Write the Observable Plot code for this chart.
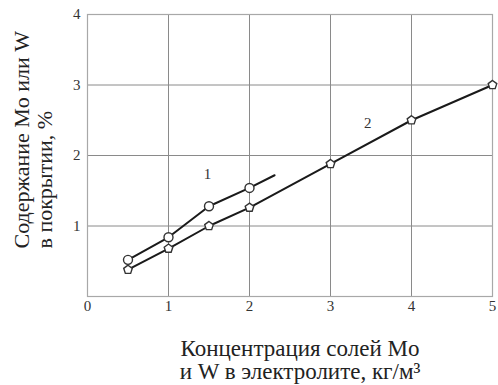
<!DOCTYPE html>
<html>
<head>
<meta charset="utf-8">
<script src="https://cdn.jsdelivr.net/npm/d3@7"></script>
<script src="https://cdn.jsdelivr.net/npm/@observablehq/plot@0.6"></script>
<style>
  html, body { margin: 0; padding: 0; background: #fff; }
  svg text { font-family: 'Liberation Serif', 'DejaVu Serif', serif; }
</style>
</head>
<body>
<div id="chart"></div>
<script>
// ---- data ----
const xTicks = [0, 1, 2, 3, 4, 5];
const yTicks = [1, 2, 3, 4];
const yGrid = [0, 1, 2, 3, 4];

const curve1X = [0.5, 1.0, 1.5, 2.0];
const curve1Y = [0.52, 0.84, 1.28, 1.54];
const curve1TailX = [2.0, 2.31];
const curve1TailY = [1.54, 1.72];

const curve2X = [0.5, 1.0, 1.5, 2.0, 3.0, 4.0, 5.0];
const curve2Y = [0.38, 0.68, 1.0, 1.26, 1.88, 2.5, 3.0];

const curveLabels = ["1", "2"];
const curveLabelX = [1.48, 3.46];
const curveLabelY = [1.74, 2.46];

const xTitle = "Концентрация солей Mo\nи W в электролите, кг/м³";
const yTitle = "Содержание Mo или W\nв покрытии, %";

// ---- build ----
const c1 = curve1X.map((x, i) => ({x, y: curve1Y[i]}));
const c1tail = curve1TailX.map((x, i) => ({x, y: curve1TailY[i]}));
const c2 = curve2X.map((x, i) => ({x, y: curve2Y[i]}));
const labs = curveLabels.map((t, i) => ({t, x: curveLabelX[i], y: curveLabelY[i]}));

const pentagon = {
  draw(context, size) {
    const r = Math.sqrt(size / Math.PI) * 1.05;
    for (let k = 0; k < 5; k++) {
      const a = -Math.PI / 2 + k * 2 * Math.PI / 5;
      const px = r * Math.cos(a), py = r * Math.sin(a);
      if (k === 0) context.moveTo(px, py); else context.lineTo(px, py);
    }
    context.closePath();
  }
};

const serif = "'Liberation Serif', 'DejaVu Serif', serif";

const chart = Plot.plot({
  width: 498,
  height: 385,
  marginLeft: 87,
  marginRight: 6,
  marginTop: 14,
  marginBottom: 89,
  style: {fontFamily: serif, background: "#fff", overflow: "visible"},
  x: {domain: [0, 5]},
  y: {domain: [0, 4]},
  marks: [
    Plot.gridX(xTicks, {stroke: "#8a8a8a", strokeOpacity: 1, strokeWidth: 1}),
    Plot.gridY(yGrid, {stroke: "#8a8a8a", strokeOpacity: 1, strokeWidth: 1}),
    Plot.frame({stroke: "#a8a8a8", strokeWidth: 1.2}),
    Plot.axisX(xTicks, {tickSize: 0, tickPadding: 4, fontSize: 15, fontFamily: serif, fill: "#333", label: null, tickFormat: d => String(d)}),
    Plot.axisY(yTicks, {tickSize: 0, tickPadding: 7, fontSize: 15, fontFamily: serif, fill: "#333", label: null, tickFormat: d => String(d)}),
    Plot.line(c2, {x: "x", y: "y", stroke: "#1a1a1a", strokeWidth: 2}),
    Plot.line(c1, {x: "x", y: "y", stroke: "#1a1a1a", strokeWidth: 2}),
    Plot.line(c1tail, {x: "x", y: "y", stroke: "#1a1a1a", strokeWidth: 2}),
    Plot.dot(c1, {x: "x", y: "y", r: 4.5, symbol: "circle", stroke: "#333", strokeWidth: 1.4, fill: "#fff"}),
    Plot.dot(c2, {x: "x", y: "y", r: 4.3, symbol: pentagon, stroke: "#333", strokeWidth: 1.4, fill: "#fff"}),
    Plot.text(labs, {x: "x", y: "y", text: "t", fontSize: 15, fontFamily: serif, fill: "#333"}),
    Plot.text([xTitle], {frameAnchor: "bottom", dx: 10, dy: 43, lineAnchor: "top", lineHeight: 1.0, fontSize: 23, fontFamily: serif, fill: "#222", text: d => d}),
    Plot.text([yTitle], {frameAnchor: "bottom-left", dx: -75, dy: -48, textAnchor: "start", lineAnchor: "top", lineHeight: 1.05, rotate: -90, fontSize: 22, fontFamily: serif, fill: "#222", text: d => d})
  ]
});
document.getElementById("chart").appendChild(chart);
</script>
</body>
</html>
